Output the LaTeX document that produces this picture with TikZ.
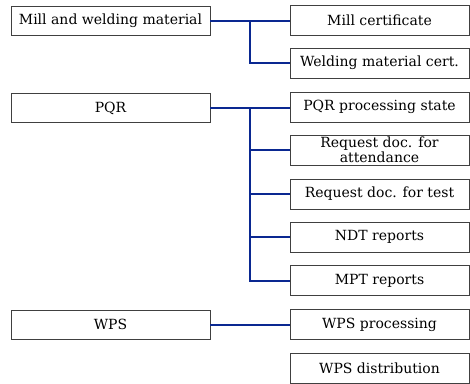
\documentclass[tikz,border=0pt]{standalone}
\usepackage{fontspec}
\setmainfont{DejaVu Serif}
\usepackage{tikz}
\tikzset{
  leftbox/.style={draw=black!75,line width=0.8pt,minimum width=199pt,minimum height=29pt,inner sep=1pt,font=\fontsize{14}{12}\selectfont},
  docbox/.style={draw=black!75,line width=0.8pt,minimum width=179pt,minimum height=30pt,inner sep=1pt,font=\fontsize{14}{12}\selectfont,align=center},
  link/.style={draw={rgb,255:red,10;green,40;blue,145},line width=2pt}
}
\begin{document}
\begin{tikzpicture}[x=1pt,y=-1pt]
\useasboundingbox (0,0) rectangle (470,383);
% left column
\node[leftbox] (mill) at (110.5,20.5) {Mill and welding material};
\node[leftbox] (pqr) at (110.5,108) {PQR};
\node[leftbox] (wps) at (110.5,324.5) {WPS};
% right column
\node[docbox] (millcert) at (379.5,20.5) {Mill certificate};
\node[docbox] (weldcert) at (379.5,63) {Welding material cert.};
\node[docbox] (pqrstate) at (379.5,107) {PQR processing state};
\node[docbox] (attend) at (379.5,150) {Request doc. for\\attendance};
\node[docbox] (testreq) at (379.5,194) {Request doc. for test};
\node[docbox] (ndt) at (379.5,237) {NDT reports};
\node[docbox] (mpt) at (379.5,280.5) {MPT reports};
\node[docbox] (wpsproc) at (379.5,324.5) {WPS processing};
\node[docbox] (wpsdist) at (379.5,368) {WPS distribution};
% trunks
\coordinate (mtrunk) at (250,20.5);
\coordinate (ptrunk) at (250,108);
\draw[link] (mill) -- (millcert);
\draw[link] (mtrunk) |- (weldcert.west);
\draw[link] (pqr.east) -- (pqrstate.west |- pqr.east);
\draw[link] (ptrunk) |- (mpt.west);
\foreach \n in {attend,testreq,ndt}
  \draw[link] (ptrunk |- \n.west) -- (\n.west);
\draw[link] (wps) -- (wpsproc);
\end{tikzpicture}
\end{document}
